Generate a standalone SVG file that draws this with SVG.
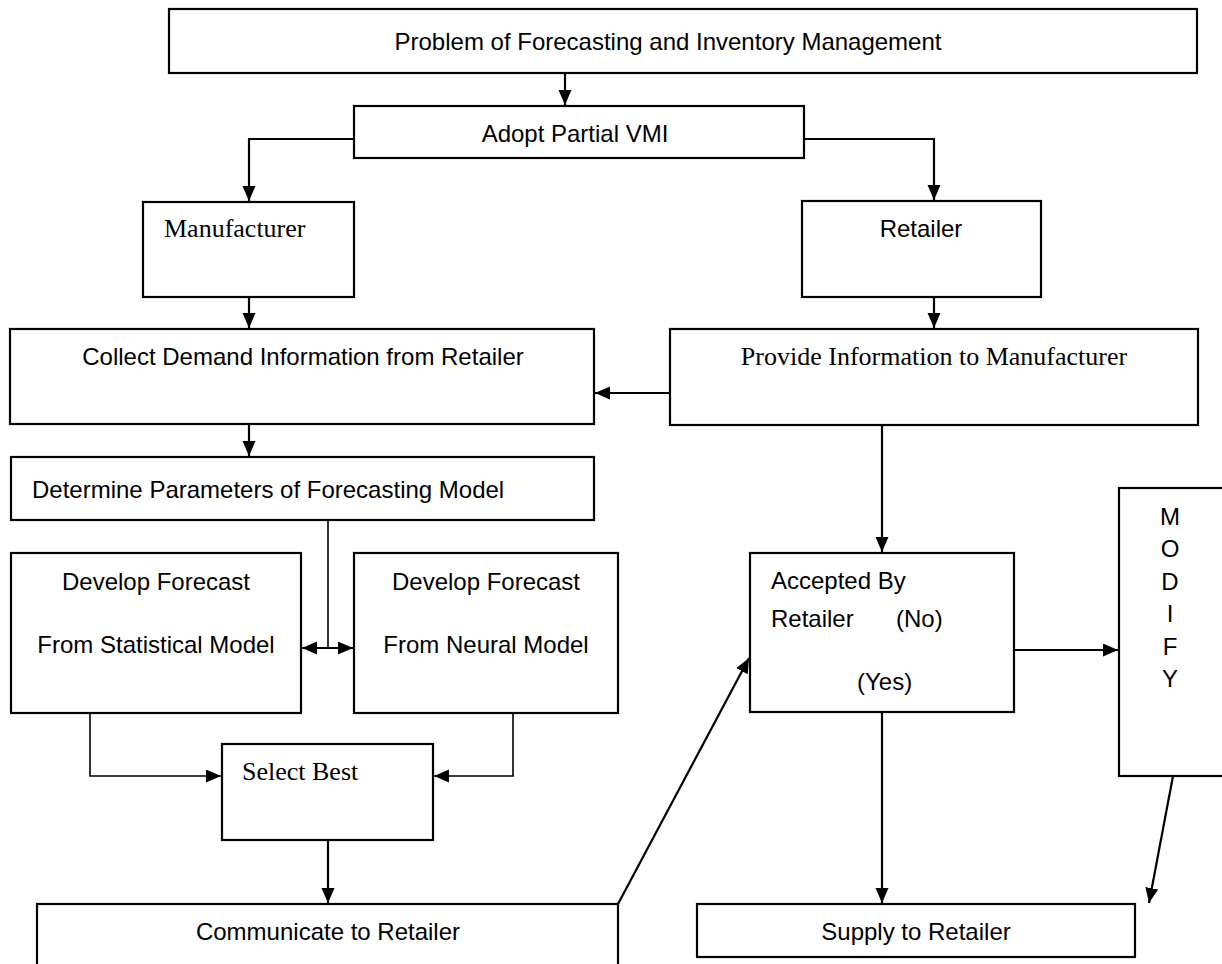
<svg xmlns="http://www.w3.org/2000/svg" width="1222" height="964" viewBox="0 0 1222 964">
<style>
rect{fill:#fff;stroke:#000;stroke-width:2.2}
.s{font-family:"Liberation Sans",Arial,sans-serif;font-size:24px;fill:#000}
.r{font-family:"Liberation Serif","Times New Roman",serif;font-size:26px;fill:#000}
.m{text-anchor:middle}
.c{fill:none;stroke:#000;stroke-width:2.2}
.t{fill:none;stroke:#000;stroke-width:1.6}
</style>
<defs>
<marker id="ah" markerUnits="userSpaceOnUse" markerWidth="16" markerHeight="14" refX="15" refY="6.5" orient="auto-start-reverse">
<path d="M0,0 L15,6.5 L0,13 z" fill="#000"/>
</marker>
</defs>
<rect width="1222" height="964" style="fill:#fff;stroke:none"/>
<g id="connectors">
<path class="c" d="M565,73 V105" marker-end="url(#ah)"/>
<path class="c" d="M354,139 H249 V201" marker-end="url(#ah)"/>
<path class="c" d="M804,139 H934 V200" marker-end="url(#ah)"/>
<path class="c" d="M249,297 V328" marker-end="url(#ah)"/>
<path class="c" d="M934,297 V328" marker-end="url(#ah)"/>
<path class="c" d="M670,393 H595" marker-end="url(#ah)"/>
<path class="c" d="M249,424 V456" marker-end="url(#ah)"/>
<path class="t" d="M328,520 V648"/>
<path class="c" d="M302,648 H353" marker-start="url(#ah)" marker-end="url(#ah)"/>
<path class="t" d="M90,713 V776 H221" marker-end="url(#ah)"/>
<path class="t" d="M513,713 V776 H434" marker-end="url(#ah)"/>
<path class="c" d="M328,840 V903" marker-end="url(#ah)"/>
<path class="c" d="M618,904 L749,658" marker-end="url(#ah)"/>
<path class="c" d="M882,425 V552" marker-end="url(#ah)"/>
<path class="c" d="M1014,650 H1118" marker-end="url(#ah)"/>
<path class="c" d="M882,712 V903" marker-end="url(#ah)"/>
<path class="c" d="M1173,776 L1149,903" marker-end="url(#ah)"/>
</g>
<g id="problem">
<rect x="169" y="9" width="1028" height="64"/>
<text class="s m" x="668" y="50">Problem of Forecasting and Inventory Management</text>
</g>
<g id="adopt">
<rect x="354" y="106" width="450" height="52"/>
<text class="s m" x="575" y="142">Adopt Partial VMI</text>
</g>
<g id="manufacturer">
<rect x="143" y="202" width="211" height="95"/>
<text class="r" x="164" y="237">Manufacturer</text>
</g>
<g id="retailer">
<rect x="802" y="201" width="239" height="96"/>
<text class="s m" x="921" y="237">Retailer</text>
</g>
<g id="collect">
<rect x="10" y="329" width="584" height="95"/>
<text class="s m" x="303" y="365">Collect Demand Information from Retailer</text>
</g>
<g id="provide">
<rect x="670" y="329" width="528" height="96"/>
<text class="r m" x="934" y="365">Provide Information to Manufacturer</text>
</g>
<g id="determine">
<rect x="11" y="457" width="583" height="63"/>
<text class="s" x="32" y="498">Determine Parameters of Forecasting Model</text>
</g>
<g id="statistical">
<rect x="11" y="553" width="290" height="160"/>
<text class="s m" x="156" y="590">Develop Forecast</text>
<text class="s m" x="156" y="653">From Statistical Model</text>
</g>
<g id="neural">
<rect x="354" y="553" width="264" height="160"/>
<text class="s m" x="486" y="590">Develop Forecast</text>
<text class="s m" x="486" y="653">From Neural Model</text>
</g>
<g id="select">
<rect x="222" y="744" width="211" height="96"/>
<text class="r" x="242" y="780">Select Best</text>
</g>
<g id="communicate">
<rect x="37" y="904" width="581" height="80"/>
<text class="s m" x="328" y="940">Communicate to Retailer</text>
</g>
<g id="accepted">
<rect x="750" y="553" width="264" height="159"/>
<text class="s" x="771" y="589">Accepted By</text>
<text class="s" x="771" y="627">Retailer</text>
<text class="s" x="896" y="627">(No)</text>
<text class="s" x="857" y="690">(Yes)</text>
</g>
<g id="modify">
<rect x="1119" y="488" width="120" height="288"/>
<text class="s m" x="1170" y="525">M</text>
<text class="s m" x="1170" y="557">O</text>
<text class="s m" x="1170" y="590">D</text>
<text class="s m" x="1170" y="622">I</text>
<text class="s m" x="1170" y="655">F</text>
<text class="s m" x="1170" y="687">Y</text>
</g>
<g id="supply">
<rect x="697" y="904" width="438" height="53"/>
<text class="s m" x="916" y="940">Supply to Retailer</text>
</g>
</svg>
